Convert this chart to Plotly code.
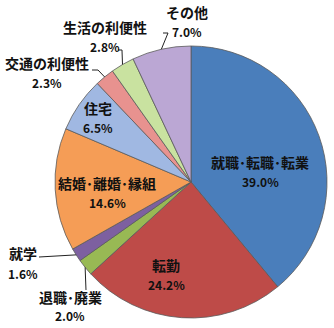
import math
import plotly.graph_objects as go

labels = ["就職･転職･転業", "転勤", "退職･廃業", "就学", "結婚･離婚･縁組",
          "住宅", "交通の利便性", "生活の利便性", "その他"]
values = [39.0, 24.2, 2.0, 1.6, 14.6, 6.5, 2.3, 2.8, 7.0]
colors = ["#4A7EBB", "#BE4B48", "#98B954", "#7D60A0", "#F59D56",
          "#A0B8E2", "#E8928F", "#C9E2A0", "#BBA7D4"]

W, H = 334, 328
CX, CY, R = 191, 182, 136

# label text centres (pixels) : name line, percent line
label_pos = {
    "就職･転職･転業": (260, 162, 181),
    "転勤": (166, 265, 284),
    "退職･廃業": (70, 297, 315),
    "就学": (23, 253, 273),
    "結婚･離婚･縁組": (107, 183, 202),
    "住宅": (98, 108, 127),
    "交通の利便性": (47, 63, 82),
    "生活の利便性": (105, 27, 46),
    "その他": (187, 12, 32),
}
# leader line elbows (pixels) for outside labels
elbows = {
    "退職･廃業": [(86, 290)],
    "就学": [(39, 257)],
    "交通の利便性": [(92, 70), (98, 70)],
    "生活の利便性": [(118, 50), (122, 50)],
    "その他": [(163, 33), (168, 33)],
}

def px(x):
    return x / W

def py(y):
    return 1 - y / H

fig = go.Figure(go.Pie(
    labels=labels, values=values, sort=False, direction="clockwise", rotation=0,
    marker=dict(colors=colors, line=dict(color="#5A5A5A", width=0.8)),
    textinfo="none", hoverinfo="label+percent", showlegend=False,
    domain=dict(x=[px(CX - R), px(CX + R)], y=[py(CY + R), py(CY - R)]),
))

total = sum(values)
cum = 0.0
shapes = []
annotations = []
font_name = dict(family="Noto Sans CJK JP", size=14, color="#111111")
font_pct = dict(family="Noto Sans CJK JP", size=12, color="#111111")
for lab, v in zip(labels, values):
    mid = (cum + v / 2) / total * 2 * math.pi
    cum += v
    x, y1, y2 = label_pos[lab]
    annotations.append(dict(x=px(x), y=py(y1), xref="paper", yref="paper",
                            xanchor="center", yanchor="middle",
                            text="<b>%s</b>" % lab, showarrow=False, font=font_name))
    annotations.append(dict(x=px(x), y=py(y2), xref="paper", yref="paper",
                            xanchor="center", yanchor="middle",
                            text="<b>%.1f%%</b>" % v, showarrow=False, font=font_pct))
    if lab in elbows:
        ex = CX + R * math.sin(mid)
        ey = CY - R * math.cos(mid)
        pts = elbows[lab] + [(ex, ey)]
        path = "M " + " L ".join("%f,%f" % (px(a), py(b)) for a, b in pts)
        shapes.append(dict(type="path", path=path, xref="paper", yref="paper",
                           line=dict(color="#222222", width=1)))

fig.update_layout(
    width=W, height=H, margin=dict(l=0, r=0, t=0, b=0),
    paper_bgcolor="white", plot_bgcolor="white",
    shapes=shapes, annotations=annotations,
)
fig.write_html("out.html")
